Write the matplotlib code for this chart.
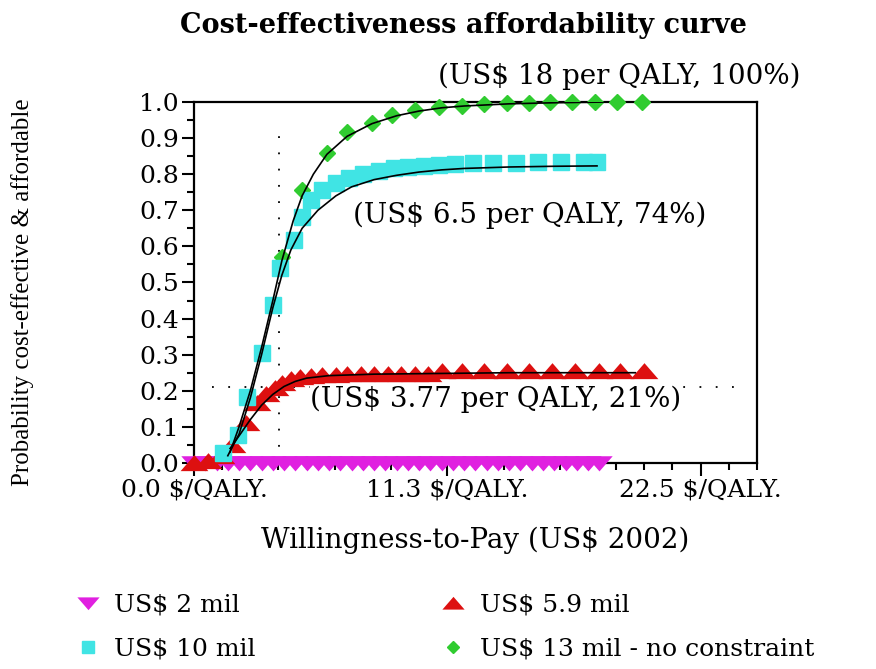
import matplotlib
matplotlib.use("Agg")
import matplotlib.pyplot as plt
from matplotlib.ticker import FixedLocator, MultipleLocator
from matplotlib.lines import Line2D

# ---------------- data ----------------
title = "Cost-effectiveness affordability curve"
xlabel = "Willingness-to-Pay (US$ 2002)"
ylabel = "Probability cost-effective & affordable"

x_ticks = [0.0, 11.25, 22.5]
x_ticklabels = ["0.0 $/QALY.", "11.3 $/QALY.", "22.5 $/QALY."]
y_ticks = [0.0, 0.1, 0.2, 0.3, 0.4, 0.5, 0.6, 0.7, 0.8, 0.9, 1.0]
y_ticklabels = ["0.0", "0.1", "0.2", "0.3", "0.4", "0.5", "0.6", "0.7", "0.8", "0.9", "1.0"]

series_labels = ["US$ 2 mil", "US$ 5.9 mil", "US$ 10 mil", "US$ 13 mil - no constraint"]

# US$ 2 mil (stays at zero)
mil2_x = [0.0, 0.5, 1.0, 1.5, 2.0, 2.5, 3.0, 3.5, 4.0, 4.5, 5.0, 5.5, 6.0, 6.5, 7.0,
          7.5, 8.0, 8.5, 9.0, 9.5, 10.0, 10.5, 11.0, 11.5, 12.0, 12.5, 13.0, 13.5,
          14.0, 14.5, 15.0, 15.5, 16.0, 16.5, 17.0, 17.5, 18.0]
mil2_y = [0.0] * len(mil2_x)

# US$ 5.9 mil
mil59_x = [0.0, 0.6, 1.2, 1.7, 2.3, 2.8, 3.2, 3.6, 3.9, 4.3, 4.7, 5.2, 5.7, 6.3, 6.8,
           7.4, 8.0, 8.6, 9.2, 9.8, 10.4, 11.0, 11.9, 12.9, 13.9, 14.9, 15.9,
           16.9, 18.0, 18.9, 20.0]
mil59_y = [0.0, 0.005, 0.02, 0.05, 0.11, 0.166, 0.19, 0.207, 0.222, 0.232, 0.238,
           0.242, 0.244, 0.245, 0.246, 0.246, 0.246, 0.247, 0.247, 0.247, 0.247,
           0.255, 0.256, 0.256, 0.256, 0.256, 0.256, 0.256, 0.256, 0.256, 0.256]

# US$ 10 mil
mil10_x = [1.3, 1.95, 2.35, 3.0, 3.5, 3.8, 4.45, 4.8, 5.2, 5.7, 6.3, 6.9, 7.5, 8.2,
           8.9, 9.5, 10.2, 10.9, 11.6, 12.4, 13.3, 14.3, 15.3, 16.3, 17.3, 17.9]
mil10_y = [0.028, 0.078, 0.183, 0.305, 0.438, 0.54, 0.618, 0.681, 0.728, 0.756,
           0.776, 0.79, 0.80, 0.81, 0.817, 0.82, 0.824, 0.826, 0.828, 0.83, 0.831,
           0.832, 0.833, 0.834, 0.834, 0.834]

# US$ 13 mil - no constraint
mil13_x = [3.9, 4.8, 5.9, 6.8, 7.9, 8.8, 9.8, 10.9, 11.9, 12.9, 13.9, 14.9, 15.8,
           16.8, 17.8, 18.8, 19.9]
mil13_y = [0.571, 0.756, 0.859, 0.917, 0.942, 0.964, 0.978, 0.986, 0.99, 0.995,
           0.997, 0.998, 0.999, 0.999, 1.0, 1.0, 1.0]

# fitted curves (black lines)
fit59_x = [1.6, 2.0, 2.5, 3.0, 3.5, 4.0, 4.5, 5.0, 6.0, 8.0, 11.0, 14.0, 19.6]
fit59_y = [0.04, 0.075, 0.12, 0.16, 0.19, 0.212, 0.226, 0.235, 0.242, 0.246, 0.248, 0.25, 0.25]
fit10_x = [1.5, 2.0, 2.5, 3.0, 3.5, 3.9, 4.3, 4.8, 5.5, 6.3, 7.0, 8.0, 9.0, 10.0,
           11.0, 12.0, 14.0, 16.0, 17.9]
fit10_y = [0.02, 0.08, 0.18, 0.30, 0.43, 0.52, 0.59, 0.65, 0.70, 0.74, 0.765, 0.785,
           0.797, 0.806, 0.812, 0.816, 0.82, 0.822, 0.823]
fit13_x = [1.6, 2.0, 2.5, 3.0, 3.5, 3.9, 4.4, 4.8, 5.3, 5.9, 6.8, 7.9, 9.0, 10.0,
           11.0, 12.0, 14.0, 16.0, 18.3]
fit13_y = [0.03, 0.10, 0.20, 0.32, 0.45, 0.56, 0.67, 0.74, 0.80, 0.855, 0.905, 0.94,
           0.962, 0.975, 0.984, 0.989, 0.995, 0.998, 1.0]

# reference lines and annotations
wtp_ref = 3.77
prob_ref = 0.21
annotations = [
    ("(US$ 18 per QALY, 100%)", 18.9, 1.072),
    ("(US$ 6.5 per QALY, 74%)", 14.9, 0.687),
    ("(US$ 3.77 per QALY, 21%)", 13.4, 0.175),
]

# ---------------- styling ----------------
c_mag = "#e020e0"
c_red = "#dd1010"
c_cyan = "#40e4e4"
c_green = "#30cc30"

# wide triangles (the original chart is horizontally stretched)
tri_up = [(-1.0, -0.55), (1.0, -0.55), (0.0, 0.6), (-1.0, -0.55)]
tri_dn = [(-1.0, 0.55), (1.0, 0.55), (0.0, -0.6), (-1.0, 0.55)]

serif = ["DejaVu Serif"]
plt.rcParams["font.family"] = serif

fig = plt.figure(figsize=(8.76, 6.69), dpi=100)
ax = fig.add_axes([0.2215, 0.308, 0.6425, 0.5395])

ax.set_xlim(0, 25)
ax.set_ylim(0, 1.0)

# reference dotted lines
ax.plot([wtp_ref, wtp_ref], [0.0, 0.945], color="black", lw=1.3,
        linestyle=(0, (1, 8)), zorder=1)
ax.plot([0.8, 24.6], [prob_ref, prob_ref], color="black", lw=1.3,
        linestyle=(0, (1, 8)), zorder=1)

# series markers
ax.plot(mil2_x, mil2_y, linestyle="none", marker=tri_dn, ms=19, color=c_mag,
        mec=c_mag, mew=0, clip_on=False, zorder=3)
ax.plot(mil59_x, mil59_y, linestyle="none", marker=tri_up, ms=20, color=c_red,
        mec=c_red, mew=0, clip_on=False, zorder=3)
ax.plot(mil13_x, mil13_y, linestyle="none", marker="D", ms=8, color=c_green,
        mec=c_green, clip_on=False, zorder=3)
ax.plot(mil10_x, mil10_y, linestyle="none", marker="s", ms=11, color=c_cyan,
        mec=c_cyan, clip_on=False, zorder=3)

# fitted curves
ax.plot(fit59_x, fit59_y, color="black", lw=1.2, zorder=4)
ax.plot(fit10_x, fit10_y, color="black", lw=1.2, zorder=4)
ax.plot(fit13_x, fit13_y, color="black", lw=1.2, zorder=4)

for txt, xx, yy in annotations:
    ax.text(xx, yy, txt, ha="center", va="center", fontsize=20, family=serif,
            clip_on=False, zorder=5,
            bbox=dict(facecolor="white", edgecolor="none", pad=0.3))

# axes cosmetics
for s in ax.spines.values():
    s.set_linewidth(1.6)
ax.xaxis.set_major_locator(FixedLocator(x_ticks))
ax.set_xticklabels(x_ticklabels, fontsize=18)
ax.xaxis.set_minor_locator(MultipleLocator(1.25))
ax.yaxis.set_major_locator(FixedLocator(y_ticks))
ax.set_yticklabels(y_ticklabels, fontsize=18)
ax.yaxis.set_minor_locator(MultipleLocator(0.05))
ax.tick_params(axis="both", which="major", direction="out", length=9, width=1.5, pad=2)
ax.tick_params(axis="both", which="minor", direction="out", length=5, width=1.5)

ax.set_xlabel(xlabel, fontsize=20, labelpad=18)
fig.text(0.026, 0.563, ylabel, rotation=90, ha="center", va="center",
         fontsize=18, family=["Liberation Serif"])
fig.text(0.529, 0.962, title, ha="center", va="center", fontsize=19.5,
         fontweight="bold", family=["DejaVu Serif"])

# legend
handles = [
    Line2D([], [], linestyle="none", marker=tri_dn, ms=16, color=c_mag, mew=0),
    Line2D([], [], linestyle="none", marker="s", ms=9, color=c_cyan),
    Line2D([], [], linestyle="none", marker=tri_up, ms=16, color=c_red, mew=0),
    Line2D([], [], linestyle="none", marker="D", ms=6, color=c_green),
]
labels = [series_labels[0], series_labels[2], series_labels[1], series_labels[3]]
fig.legend(handles, labels, ncol=2, loc="upper left",
           bbox_to_anchor=(0.075, 0.128), frameon=False,
           prop={"family": "DejaVu Serif", "size": 18},
           handlelength=1.0, handletextpad=0.55, columnspacing=7.4,
           labelspacing=0.85, borderaxespad=0)

fig.savefig("out.png", dpi=100)
